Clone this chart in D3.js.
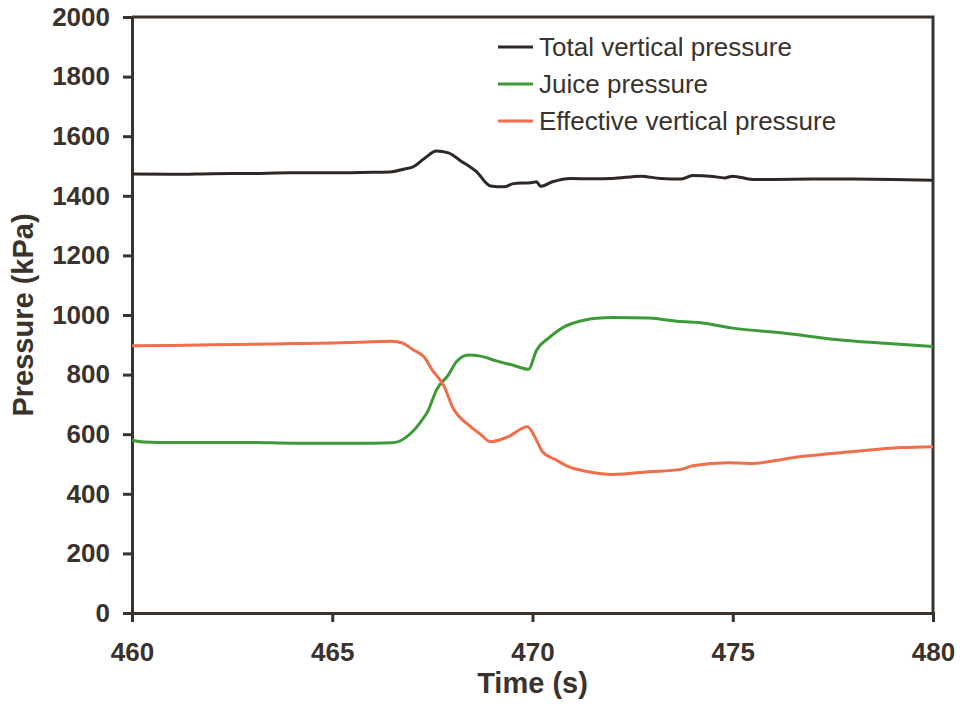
<!DOCTYPE html>
<html>
<head>
<meta charset="utf-8">
<script src="https://cdn.jsdelivr.net/npm/d3@7"></script>
<style>
  body { margin: 0; background: #fff; }
  svg { font-family: "Liberation Sans", Arial, sans-serif; }
</style>
</head>
<body>
<div id="chart"></div>
<script>
// values
const totalT = [460, 461, 462, 463, 464, 465, 466, 466.5, 466.8, 467.0, 467.3, 467.6, 467.9, 468.2, 468.6, 468.95,
  469.3, 469.5, 470.0, 470.1, 470.2, 470.5, 470.95, 471.5, 472, 472.7, 473.2, 473.7, 474.0, 474.5, 474.8, 475.0,
  475.5, 476, 477, 478, 479, 480];
const totalP = [1473, 1472, 1474, 1475, 1477, 1477, 1479, 1481, 1490, 1496, 1525, 1550, 1544, 1518, 1481, 1433,
  1430, 1440, 1445, 1447, 1432, 1447, 1458, 1457, 1458, 1466, 1458, 1456, 1468, 1465, 1460, 1466,
  1455, 1455, 1456, 1456, 1455, 1452];

const juiceT = [460, 460.3, 461, 462, 463, 464, 465, 466, 466.5, 466.7, 467.0, 467.2, 467.4, 467.6, 467.9, 468.1,
  468.4, 468.7, 469.1, 469.5, 469.9, 470.1, 470.4, 470.8, 471.2, 471.6, 472, 472.9, 473.7, 474.2, 475, 476.3,
  477.5, 478.8, 480];
const juiceP = [580, 574, 572, 572, 572, 570, 570, 570, 571, 578, 608, 640, 681, 748, 799, 843,
  866, 862, 846, 832, 818, 882, 922, 961, 980, 989, 992, 990, 978, 974, 956, 939,
  919, 905, 894];

const effT = [460, 461, 462, 463, 464, 465, 466, 466.5, 466.75, 467.0, 467.3, 467.5, 467.8, 468.0, 468.4, 468.7,
  468.95, 469.4, 469.87, 470.1, 470.25, 470.6, 470.9, 471.4, 472.0, 472.9, 473.7, 474.0, 474.9, 475.45, 476.7,
  477.95, 479.2, 480];
const effP = [897, 898, 900, 902, 904, 906, 910, 912, 906, 885, 858, 815, 759, 692, 631, 600,
  575, 592, 625, 580, 541, 513, 491, 474, 465, 474, 482, 494, 504, 502, 525,
  541, 555, 558];

const seriesNames = ["Total vertical pressure", "Juice pressure", "Effective vertical pressure"];
const seriesColors = ["#2e2723", "#3c9a37", "#ef6e4c"];
const xTicks = [460, 465, 470, 475, 480];
const yTicks = [0, 200, 400, 600, 800, 1000, 1200, 1400, 1600, 1800, 2000];

const width = 962, height = 704;
const margin = {top: 17, right: 29, bottom: 91, left: 132};
const ink = "#3a322d";

const svg = d3.select("#chart").append("svg")
  .attr("width", width)
  .attr("height", height);

const x = d3.scaleLinear().domain([460, 480]).range([margin.left, width - margin.right]);
const y = d3.scaleLinear().domain([0, 2000]).range([height - margin.bottom, margin.top]);

// frame top and right
svg.append("path")
  .attr("d", `M${x(460)},${y(2000)}H${x(480)}V${y(0)}`)
  .attr("fill", "none")
  .attr("stroke", ink)
  .attr("stroke-width", 3);

const yAxis = svg.append("g")
  .attr("transform", `translate(${margin.left},0)`)
  .call(d3.axisLeft(y).tickValues(yTicks).tickFormat(d3.format("d")).tickSize(9).tickPadding(13));

const xAxis = svg.append("g")
  .attr("transform", `translate(0,${height - margin.bottom})`)
  .call(d3.axisBottom(x).tickValues(xTicks).tickFormat(d3.format("d")).tickSize(9).tickPadding(21));

[xAxis, yAxis].forEach(g => {
  g.select(".domain").attr("stroke", ink).attr("stroke-width", 3);
  g.selectAll(".tick line").attr("stroke", ink).attr("stroke-width", 3);
  g.selectAll(".tick text")
    .attr("fill", ink)
    .style("font-size", "26px")
    .style("font-weight", "bold")
    .style("font-family", "'Liberation Sans', Arial, sans-serif");
});

const line = d3.line()
  .x(d => x(d[0]))
  .y(d => y(d[1]))
  .curve(d3.curveMonotoneX);

const series = [
  d3.zip(totalT, totalP),
  d3.zip(juiceT, juiceP),
  d3.zip(effT, effP)
];

svg.append("g")
  .selectAll("path")
  .data(series)
  .join("path")
  .attr("d", line)
  .attr("fill", "none")
  .attr("stroke", (d, i) => seriesColors[i])
  .attr("stroke-width", 3)
  .attr("stroke-linejoin", "round");

// legend
const legend = svg.append("g");
seriesNames.forEach((name, i) => {
  const yy = 47 + i * 37;
  legend.append("line")
    .attr("x1", 498).attr("x2", 533)
    .attr("y1", yy).attr("y2", yy)
    .attr("stroke", seriesColors[i])
    .attr("stroke-width", 3);
  legend.append("text")
    .attr("x", 539).attr("y", yy + 9)
    .attr("fill", ink)
    .style("font-size", "26px")
    .text(name);
});

// axis titles
svg.append("text")
  .attr("transform", `translate(33,${(margin.top + height - margin.bottom) / 2}) rotate(-90)`)
  .attr("text-anchor", "middle")
  .attr("fill", ink)
  .style("font-size", "29px")
  .style("font-weight", "bold")
  .text("Pressure (kPa)");

svg.append("text")
  .attr("x", (margin.left + width - margin.right) / 2)
  .attr("y", 693)
  .attr("text-anchor", "middle")
  .attr("fill", ink)
  .style("font-size", "29px")
  .style("font-weight", "bold")
  .text("Time (s)");
</script>
</body>
</html>
